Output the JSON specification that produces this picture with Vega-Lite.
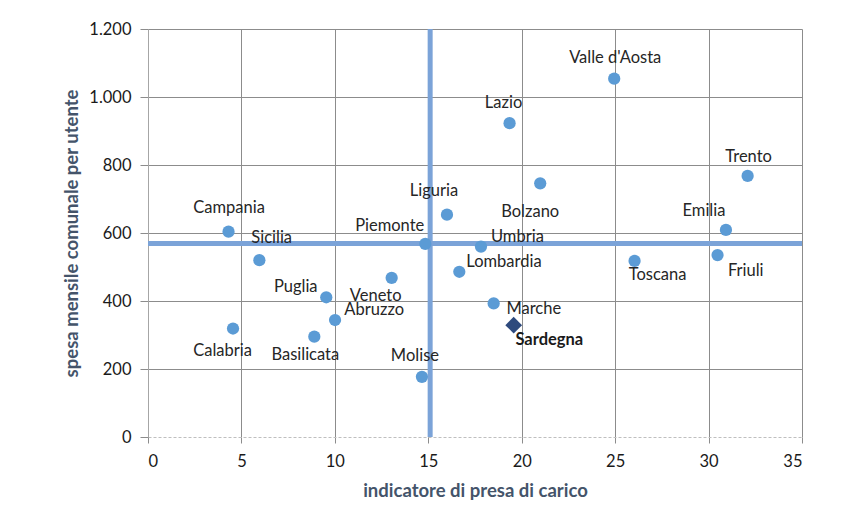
{
  "$schema": "https://vega.github.io/schema/vega-lite/v6.json",
  "width": 654,
  "height": 408,
  "autosize": "none",
  "padding": {"left": 148, "top": 29, "right": 39, "bottom": 84},
  "background": "white",
  "config": {
    "view": {"stroke": null},
    "text": {"font": "Lato", "fontSize": 16.5, "color": "#262626", "baseline": "middle"},
    "axisX": {
      "grid": true, "gridColor": "#8C8C8C", "gridWidth": 1,
      "domainColor": "#BFBFBF", "domainDash": [3, 2],
      "tickColor": "#8C8C8C", "tickSize": 6,
      "labelFont": "Lato", "labelFontSize": 16.5, "labelColor": "#1A1A1A", "labelPadding": 10,
      "titleFont": "Lato", "titleFontSize": 18.5, "titleFontWeight": "bold", "titleColor": "#44546A", "titlePadding": 12
    },
    "axisY": {
      "grid": true, "gridColor": "#8C8C8C", "gridWidth": 1,
      "domainColor": "#A6A6A6",
      "tickColor": "#8C8C8C", "tickSize": 8,
      "labelFont": "Lato", "labelFontSize": 16.5, "labelColor": "#1A1A1A", "labelPadding": 9,
      "titleFont": "Lato", "titleFontSize": 18.5, "titleFontWeight": "bold", "titleColor": "#44546A", "titlePadding": 7
    }
  },
  "datasets": {
    "regioni": [
      {"regione": "Valle d'Aosta", "indicatore": 24.95, "spesa": 1054},
      {"regione": "Lazio", "indicatore": 19.35, "spesa": 923},
      {"regione": "Trento", "indicatore": 32.09, "spesa": 768},
      {"regione": "Bolzano", "indicatore": 20.99, "spesa": 746},
      {"regione": "Liguria", "indicatore": 16.0, "spesa": 654},
      {"regione": "Emilia", "indicatore": 30.93, "spesa": 609},
      {"regione": "Campania", "indicatore": 4.31, "spesa": 604},
      {"regione": "Piemonte", "indicatore": 14.84, "spesa": 568},
      {"regione": "Umbria", "indicatore": 17.82, "spesa": 560},
      {"regione": "Sicilia", "indicatore": 5.96, "spesa": 520},
      {"regione": "Toscana", "indicatore": 26.04, "spesa": 518},
      {"regione": "Friuli", "indicatore": 30.48, "spesa": 535},
      {"regione": "Lombardia", "indicatore": 16.66, "spesa": 486},
      {"regione": "Veneto", "indicatore": 13.04, "spesa": 468},
      {"regione": "Puglia", "indicatore": 9.54, "spesa": 411},
      {"regione": "Marche", "indicatore": 18.5, "spesa": 393},
      {"regione": "Abruzzo", "indicatore": 10.01, "spesa": 344},
      {"regione": "Calabria", "indicatore": 4.55, "spesa": 319},
      {"regione": "Basilicata", "indicatore": 8.9, "spesa": 295},
      {"regione": "Sardegna", "indicatore": 19.57, "spesa": 329},
      {"regione": "Molise", "indicatore": 14.66, "spesa": 177}
    ],
    "medie": [{"indicatore": 15.1, "spesa": 569}]
  },
  "layer": [
    {
      "data": {"name": "medie"},
      "mark": {"type": "rule", "color": "#7BA3D8", "strokeWidth": 5},
      "encoding": {
        "x": {"field": "indicatore", "type": "quantitative", "scale": {"domain": [0, 35], "nice": false},
          "axis": {"title": "indicatore di presa di carico", "values": [0, 5, 10, 15, 20, 25, 30, 35], "format": "d"}}
      }
    },
    {
      "data": {"name": "medie"},
      "mark": {"type": "rule", "color": "#7BA3D8", "strokeWidth": 5},
      "encoding": {
        "y": {"field": "spesa", "type": "quantitative", "scale": {"domain": [0, 1200], "nice": false},
          "axis": {"title": "spesa mensile comunale per utente", "values": [0, 200, 400, 600, 800, 1000, 1200],
            "labelExpr": "replace(format(datum.value, ',d'), ',', '.')",
            "gridOpacity": {"condition": {"test": "datum.value === 0", "value": 0}, "value": 1}}}
      }
    },
    {
      "data": {"name": "regioni"},
      "encoding": {
        "x": {"field": "indicatore", "type": "quantitative", "scale": {"domain": [0, 35], "nice": false},
          "axis": {"title": "indicatore di presa di carico", "values": [0, 5, 10, 15, 20, 25, 30, 35], "format": "d"}},
        "y": {"field": "spesa", "type": "quantitative", "scale": {"domain": [0, 1200], "nice": false},
          "axis": {"title": "spesa mensile comunale per utente", "values": [0, 200, 400, 600, 800, 1000, 1200],
            "labelExpr": "replace(format(datum.value, ',d'), ',', '.')",
            "gridOpacity": {"condition": {"test": "datum.value === 0", "value": 0}, "value": 1}}},
        "text": {"field": "regione", "type": "nominal"}
      },
      "layer": [
        {
          "transform": [{"filter": {"not": {"field": "regione", "equal": "Sardegna"}}}],
          "mark": {"type": "point", "shape": "circle", "filled": true, "size": 150, "color": "#5B9BD5", "opacity": 1}
        },
        {
          "transform": [{"filter": {"field": "regione", "equal": "Sardegna"}}],
          "mark": {"type": "point", "shape": "diamond", "filled": true, "size": 280, "color": "#2E4A7D", "opacity": 1}
        },
        {"transform": [{"filter": {"field": "regione", "equal": "Valle d'Aosta"}}], "mark": {"type": "text", "align": "center", "dx": 1, "dy": -20.5}},
        {"transform": [{"filter": {"field": "regione", "equal": "Lazio"}}], "mark": {"type": "text", "align": "center", "dx": -6, "dy": -20}},
        {"transform": [{"filter": {"field": "regione", "equal": "Trento"}}], "mark": {"type": "text", "align": "center", "dx": 1, "dy": -19}},
        {"transform": [{"filter": {"field": "regione", "equal": "Bolzano"}}], "mark": {"type": "text", "align": "center", "dx": -10, "dy": 28.5}},
        {"transform": [{"filter": {"field": "regione", "equal": "Liguria"}}], "mark": {"type": "text", "align": "center", "dx": -13, "dy": -23.4}},
        {"transform": [{"filter": {"field": "regione", "equal": "Campania"}}], "mark": {"type": "text", "align": "center", "dx": 0.5, "dy": -23.4}},
        {"transform": [{"filter": {"field": "regione", "equal": "Piemonte"}}], "mark": {"type": "text", "align": "right", "dx": -1, "dy": -18.2}},
        {"transform": [{"filter": {"field": "regione", "equal": "Sicilia"}}], "mark": {"type": "text", "align": "center", "dx": 12.3, "dy": -22.5}},
        {"transform": [{"filter": {"field": "regione", "equal": "Puglia"}}], "mark": {"type": "text", "align": "right", "dx": -8.7, "dy": -10}},
        {"transform": [{"filter": {"field": "regione", "equal": "Veneto"}}], "mark": {"type": "text", "align": "center", "dx": -16, "dy": 17.7}},
        {"transform": [{"filter": {"field": "regione", "equal": "Abruzzo"}}], "mark": {"type": "text", "align": "left", "dx": 9.3, "dy": -10.3}},
        {"transform": [{"filter": {"field": "regione", "equal": "Calabria"}}], "mark": {"type": "text", "align": "center", "dx": -10.5, "dy": 22.9}},
        {"transform": [{"filter": {"field": "regione", "equal": "Basilicata"}}], "mark": {"type": "text", "align": "center", "dx": -9, "dy": 18.3}},
        {"transform": [{"filter": {"field": "regione", "equal": "Molise"}}], "mark": {"type": "text", "align": "center", "dx": -7, "dy": -20.5}},
        {"transform": [{"filter": {"field": "regione", "equal": "Umbria"}}], "mark": {"type": "text", "align": "left", "dx": 10, "dy": -10}},
        {"transform": [{"filter": {"field": "regione", "equal": "Lombardia"}}], "mark": {"type": "text", "align": "left", "dx": 7, "dy": -10}},
        {"transform": [{"filter": {"field": "regione", "equal": "Marche"}}], "mark": {"type": "text", "align": "left", "dx": 12.7, "dy": 5.4}},
        {"transform": [{"filter": {"field": "regione", "equal": "Sardegna"}}], "mark": {"type": "text", "align": "left", "dx": 1.7, "dy": 15, "fontWeight": "bold", "color": "#1A1A1A"}},
        {"transform": [{"filter": {"field": "regione", "equal": "Toscana"}}], "mark": {"type": "text", "align": "center", "dx": 23, "dy": 14.5}},
        {"transform": [{"filter": {"field": "regione", "equal": "Friuli"}}], "mark": {"type": "text", "align": "left", "dx": 10.4, "dy": 15.5}},
        {"transform": [{"filter": {"field": "regione", "equal": "Emilia"}}], "mark": {"type": "text", "align": "center", "dx": -22, "dy": -18.7}}
      ]
    }
  ]
}
